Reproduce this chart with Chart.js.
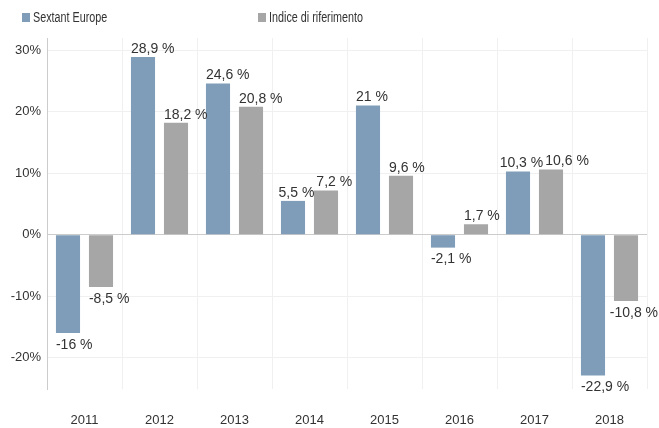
<!DOCTYPE html>
<html lang="it">
<head>
    <meta charset="UTF-8">
    <script src="https://cdn.jsdelivr.net/npm/chart.js"></script>
    <title>Sextant Europe</title>
    <style>
        body { margin: 0; background: #fff; }
        .grafico { position: relative; width: 659px; height: 428px; }
        .legenda { position: absolute; top: 0; left: 0; font-family: "Liberation Sans", Arial, sans-serif; font-size: 14px; color: #333; }
        .item { position: absolute; top: 9px; white-space: nowrap; }
        .item span.box { position: absolute; left: 0; top: 4px; width: 8px; height: 9px; }
        .item span.txt { position: absolute; left: 11px; top: 0; transform: scaleX(0.77); transform-origin: left center; }
    </style>
</head>
<body>
<div class="grafico">
    <canvas id="myChart" width="659" height="428"></canvas>
    <div class="legenda" id="legenda"></div>
</div>

<script>
    const anni = ['2011', '2012', '2013', '2014', '2015', '2016', '2017', '2018'];
    const sextant = [-16, 28.9, 24.6, 5.5, 21, -2.1, 10.3, -22.9];
    const indice = [-8.5, 18.2, 20.8, 7.2, 9.6, 1.7, 10.6, -10.8];
    const nomiSerie = ['Sextant Europe', 'Indice di riferimento'];
    const coloriSerie = ['#7f9db8', '#a6a6a6'];
    const tickY = [-20, -10, 0, 10, 20, 30];

    // legenda in html, posizionata come nell'originale
    const posLegenda = [22, 258];
    nomiSerie.forEach((nome, i) => {
        const div = document.createElement('div');
        div.className = 'item';
        div.style.left = posLegenda[i] + 'px';
        div.innerHTML = `<span class="box" style="background:${coloriSerie[i]}"></span><span class="txt">${nome}</span>`;
        legenda.appendChild(div);
    });

    function formato(v) {
        return String(v).replace('.', ',') + ' %';
    }

    // etichette allineate a sinistra sulla barra, spostate se si sovrappongono
    const etichette = {
        id: 'etichette',
        afterDatasetsDraw(chart) {
            const ctx = chart.ctx;
            ctx.save();
            ctx.font = '14px "Liberation Sans", Arial, sans-serif';
            ctx.fillStyle = '#333';
            ctx.textAlign = 'left';
            ctx.textBaseline = 'middle';
            const n = chart.data.labels.length;
            for (let i = 0; i < n; i++) {
                const box = chart.data.datasets.map((ds, d) => {
                    const bar = chart.getDatasetMeta(d).data[i];
                    const v = ds.data[i];
                    const testo = formato(v);
                    return {
                        testo,
                        x: bar.x - bar.width / 2,
                        y: v >= 0 ? bar.y - 8 : bar.y + 12,
                        w: ctx.measureText(testo).width
                    };
                });
                const a = box[0], b = box[1];
                const sovrap = a.x + a.w + 2 - b.x;
                if (sovrap > 0 && Math.abs(a.y - b.y) < 15) {
                    a.x -= sovrap / 2;
                    b.x += sovrap / 2;
                }
                box.forEach(e => {
                    const x = Math.min(e.x, chart.width - e.w - 1);
                    ctx.fillText(e.testo, x, e.y);
                });
            }
            ctx.restore();
        }
    };

    const dados = {
        labels: anni,
        datasets: [
            { label: nomiSerie[0], data: sextant, backgroundColor: coloriSerie[0] },
            { label: nomiSerie[1], data: indice, backgroundColor: coloriSerie[1] }
        ]
    };

    new Chart(document.getElementById('myChart'), {
        type: 'bar',
        data: dados,
        plugins: [etichette],
        options: {
            responsive: false,
            animation: false,
            devicePixelRatio: 1,
            layout: { padding: { top: 38, right: 12, left: 0, bottom: 0 } },
            datasets: { bar: { categoryPercentage: 0.88, barPercentage: 0.73 } },
            plugins: { legend: { display: false }, tooltip: { enabled: false } },
            scales: {
                x: {
                    grid: { color: '#f0f0f0', drawTicks: false, offset: true },
                    border: { display: false },
                    ticks: { color: '#333', padding: 24, font: { family: '"Liberation Sans", Arial, sans-serif', size: 13 } },
                    afterFit: s => { s.height = 39; }
                },
                y: {
                    min: -25.1,
                    max: 32,
                    afterBuildTicks: s => { s.ticks = tickY.map(v => ({ value: v })); },
                    grid: {
                        drawTicks: false,
                        color: c => (c.tick && c.tick.value === 0) ? '#cccccc' : '#f0f0f0'
                    },
                    border: { color: '#cccccc' },
                    ticks: {
                        color: '#333', padding: 6,
                        font: { family: '"Liberation Sans", Arial, sans-serif', size: 13 },
                        callback: v => v + '%'
                    },
                    afterFit: s => { s.width = 47; }
                }
            }
        }
    });
</script>
</body>
</html>
